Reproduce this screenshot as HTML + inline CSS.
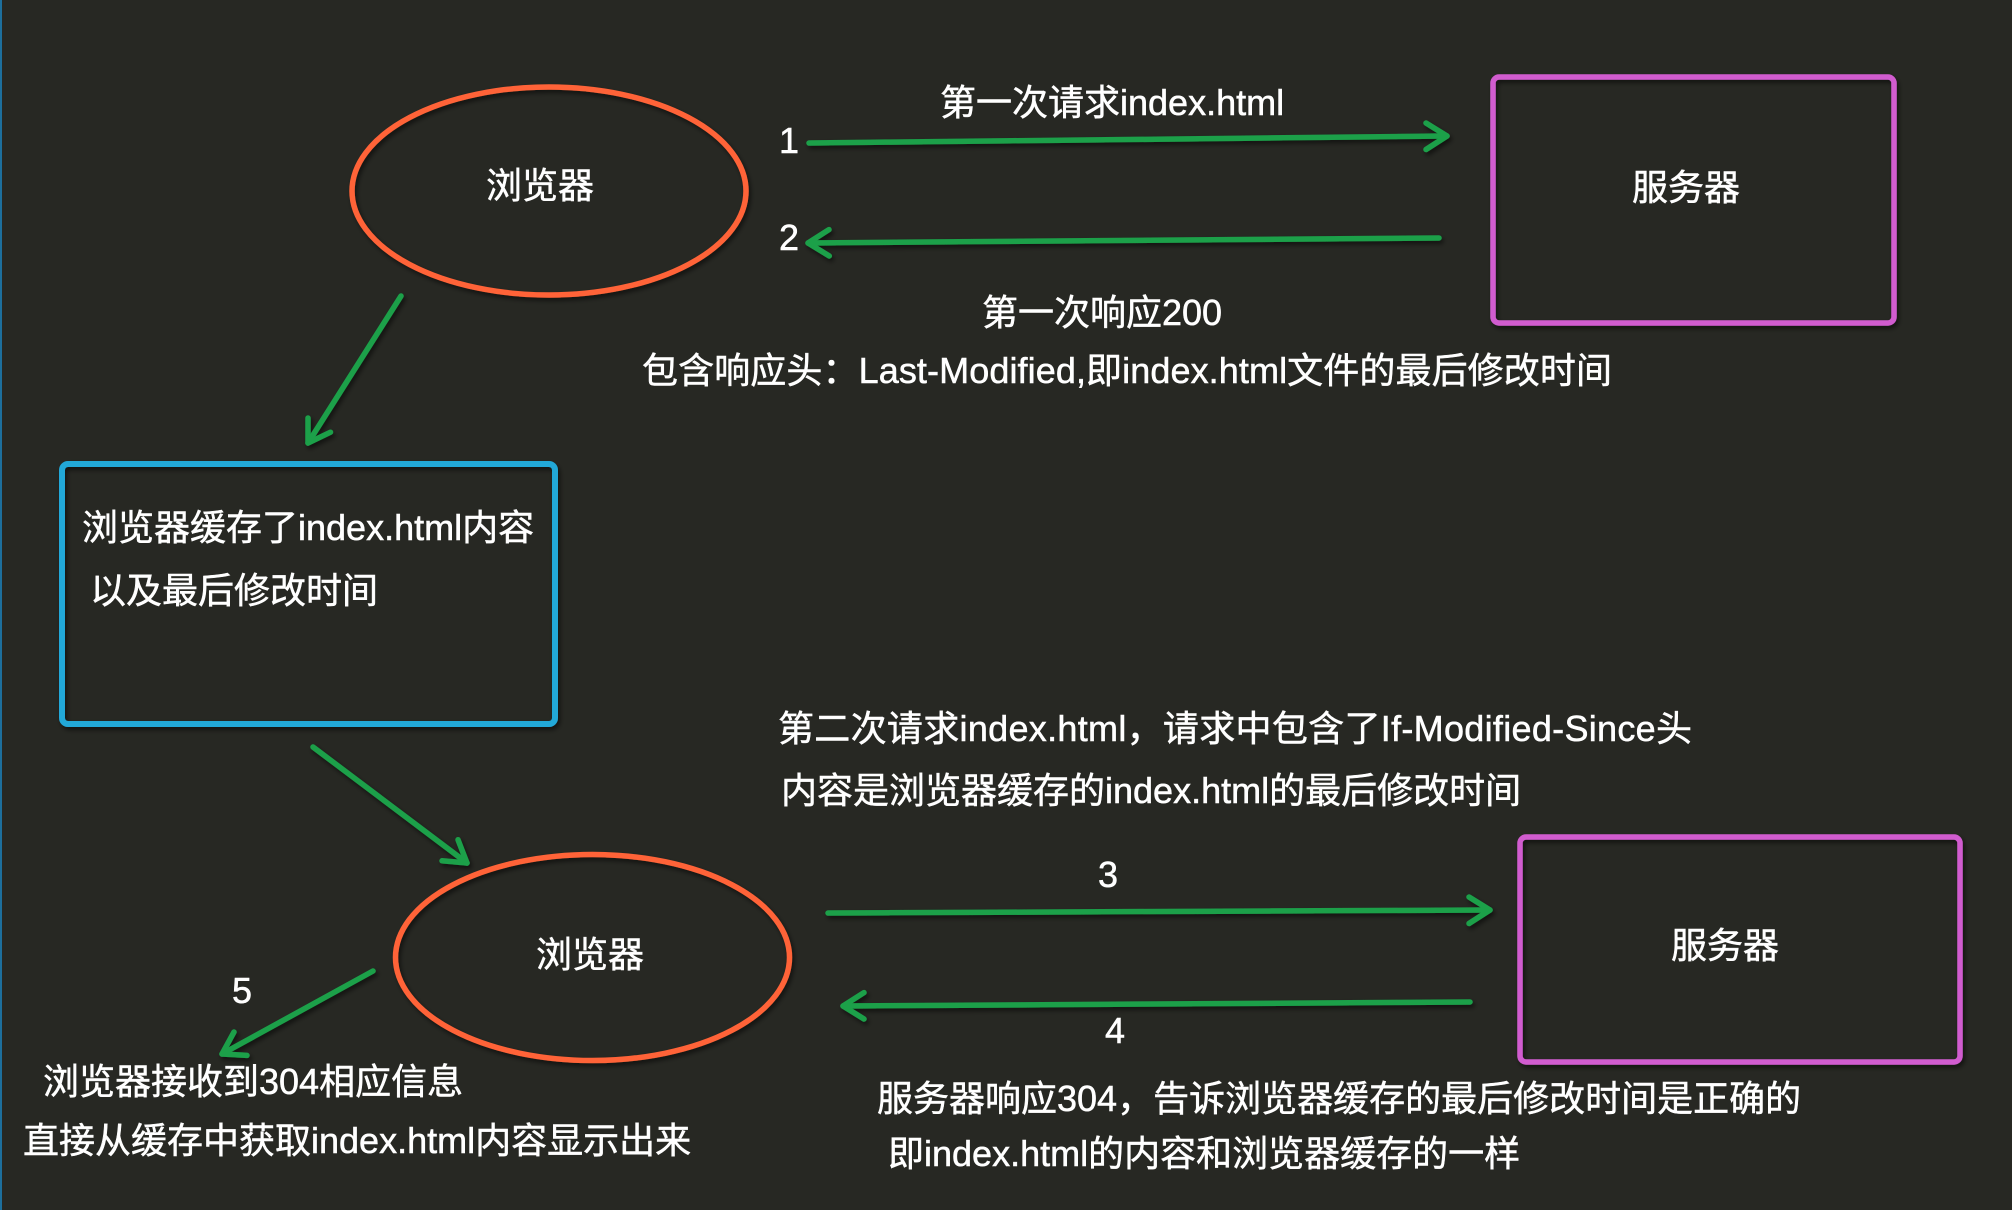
<!DOCTYPE html>
<html>
<head>
<meta charset="utf-8">
<style>
  html,body{margin:0;padding:0;background:#272823;}
  body{width:2012px;height:1210px;overflow:hidden;position:relative;}
  svg{position:absolute;left:0;top:0;}
  text{font-family:"Liberation Sans","Noto Sans CJK SC",sans-serif;font-size:36px;fill:#ffffff;stroke:#ffffff;stroke-width:0.5px;}
</style>
</head>
<body>
<svg width="2012" height="1210" viewBox="0 0 2012 1210" xmlns="http://www.w3.org/2000/svg">
  <defs>
    <filter id="sh" x="-10%" y="-10%" width="120%" height="130%">
      <feDropShadow dx="2" dy="3" stdDeviation="2.5" flood-color="#000" flood-opacity="0.55"/>
    </filter>
  </defs>
  <rect x="0" y="0" width="2012" height="1210" fill="#272823"/>
  <rect x="0" y="0" width="2" height="1210" fill="#1d6f9c"/>

  <!-- shapes -->
  <g fill="none" filter="url(#sh)">
    <ellipse cx="549" cy="191" rx="197" ry="104" stroke="#ff6337" stroke-width="5.5"/>
    <ellipse cx="592.5" cy="957.5" rx="197" ry="103" stroke="#ff6337" stroke-width="5.5"/>
    <rect x="62" y="464" width="493" height="260" rx="6" stroke="#20a8d8" stroke-width="6"/>
    <rect x="1493" y="77" width="401" height="246" rx="6" stroke="#d15ccf" stroke-width="5.5"/>
    <rect x="1520" y="837" width="440" height="225" rx="6" stroke="#d15ccf" stroke-width="5.5"/>
  </g>

  <!-- arrows -->
  <g fill="none" stroke="#1ba04a" stroke-width="5.5" stroke-linecap="round" stroke-linejoin="round" filter="url(#sh)">
    <line x1="809" y1="143" x2="1447" y2="136"/>
    <polyline points="1426,123 1447,136 1426,149.5"/>

    <line x1="1439" y1="238" x2="808" y2="243"/>
    <polyline points="829.3,256 808,243 829,229.6"/>

    <line x1="401" y1="296" x2="308" y2="443"/>
    <polyline points="330.5,432.2 308,443 308,418"/>

    <line x1="313" y1="747" x2="467" y2="863"/>
    <polyline points="458,839.7 467,863 442,860.8"/>

    <line x1="373" y1="971" x2="222" y2="1054"/>
    <polyline points="247,1055.4 222,1054 234,1032"/>

    <line x1="828" y1="913" x2="1490" y2="910"/>
    <polyline points="1469,897 1490,910 1469,923.5"/>

    <line x1="1470" y1="1002" x2="843" y2="1006"/>
    <polyline points="864,1019 843,1006 864,992.6"/>
  </g>

  <!-- labels -->
  <text x="540" y="198" text-anchor="middle">浏览器</text>
  <text x="789" y="153" text-anchor="middle">1</text>
  <text x="789" y="250" text-anchor="middle">2</text>
  <text x="940" y="115">第一次请求index.html</text>
  <text x="1686" y="200" text-anchor="middle">服务器</text>
  <text x="982" y="325">第一次响应200</text>
  <text x="642" y="383" textLength="970" lengthAdjust="spacing">包含响应头：Last-Modified,即index.html文件的最后修改时间</text>

  <text x="82" y="540">浏览器缓存了index.html内容</text>
  <text x="90" y="603">以及最后修改时间</text>

  <text x="778" y="741" textLength="914" lengthAdjust="spacing">第二次请求index.html，请求中包含了If-Modified-Since头</text>
  <text x="781" y="803">内容是浏览器缓存的index.html的最后修改时间</text>

  <text x="1108" y="887" text-anchor="middle">3</text>
  <text x="1725" y="958" text-anchor="middle">服务器</text>
  <text x="1115" y="1043" text-anchor="middle">4</text>
  <text x="590" y="967" text-anchor="middle">浏览器</text>
  <text x="242" y="1003" text-anchor="middle">5</text>

  <text x="43" y="1094">浏览器接收到304相应信息</text>
  <text x="23" y="1153">直接从缓存中获取index.html内容显示出来</text>

  <text x="877" y="1111">服务器响应304，告诉浏览器缓存的最后修改时间是正确的</text>
  <text x="888" y="1166">即index.html的内容和浏览器缓存的一样</text>
</svg>
</body>
</html>
